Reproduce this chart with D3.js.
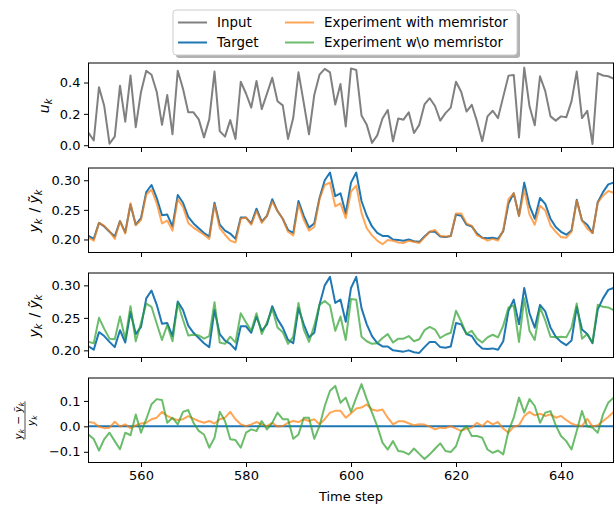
<!DOCTYPE html>
<html>
<head>
<meta charset="utf-8">
<script src="https://cdn.jsdelivr.net/npm/d3@7"></script>
<style>
  body { margin: 0; background: #fff; }
  text { font-family: "DejaVu Sans", sans-serif; }
</style>
</head>
<body>
<svg id="chart" width="615" height="506"></svg>
<script>
// time steps 550..650
var firstStep = 550;
var xTicks = [560, 580, 600, 620, 640];

// input u_k
var inputU = [0.08, 0.03, 0.37, 0.25, 0.01, 0.055, 0.38, 0.15, 0.445, 0.115,
  0.34, 0.475, 0.45, 0.34, 0.13, 0.32, 0.07, 0.475, 0.36, 0.21,
  0.21, 0.165, 0.05, 0.165, 0.47, 0.09, 0.055, 0.16, 0.04, 0.405,
  0.33, 0.24, 0.41, 0.23, 0.33, 0.43, 0.28, 0.254, 0.04, 0.175,
  0.465, 0.27, 0.07, 0.32, 0.45, 0.487, 0.465, 0.26, 0.39, 0.12,
  0.49, 0.48, 0.19, 0.13, 0.015, 0.063, 0.17, 0.225, 0.025, 0.17,
  0.163, 0.21, 0.078, 0.13, 0.26, 0.30, 0.25, 0.157, 0.205, 0.24,
  0.405, 0.34, 0.215, 0.258, 0.152, 0.025, 0.184, 0.22, 0.173, 0.31,
  0.444, 0.448, 0.05, 0.495, 0.248, 0.127, 0.44, 0.345, 0.184, 0.157,
  0.184, 0.178, 0.28, 0.47, 0.173, 0.22, 0.008, 0.46, 0.445, 0.44,
  0.425];

// target y_k
var target = [0.206, 0.201, 0.228, 0.222, 0.213, 0.205, 0.231, 0.212, 0.259, 0.225,
  0.236, 0.280, 0.292, 0.270, 0.241, 0.242, 0.222, 0.275, 0.262, 0.238,
  0.227, 0.219, 0.211, 0.205, 0.262, 0.225, 0.215, 0.210, 0.201, 0.237,
  0.237, 0.227, 0.252, 0.230, 0.240, 0.268, 0.248, 0.235, 0.216, 0.211,
  0.265, 0.240, 0.220, 0.227, 0.270, 0.300, 0.313, 0.273, 0.278, 0.244,
  0.296, 0.313, 0.265, 0.240, 0.222, 0.211, 0.206, 0.206, 0.200, 0.199,
  0.198, 0.200, 0.197, 0.196, 0.205, 0.213, 0.213, 0.205, 0.204, 0.206,
  0.242, 0.240, 0.225, 0.222, 0.210, 0.203, 0.202, 0.203, 0.201, 0.214,
  0.261, 0.278, 0.240, 0.296, 0.257, 0.235, 0.270, 0.260, 0.235, 0.221,
  0.213, 0.208, 0.215, 0.267, 0.232, 0.225, 0.211, 0.263, 0.280, 0.293,
  0.296];

// experiment with memristor
var withMem = [0.203, 0.198, 0.228, 0.223, 0.214, 0.201, 0.231, 0.210, 0.261, 0.224,
  0.233, 0.276, 0.284, 0.261, 0.227, 0.232, 0.215, 0.268, 0.255, 0.228,
  0.220, 0.214, 0.208, 0.201, 0.259, 0.219, 0.208, 0.198, 0.195, 0.235,
  0.237, 0.225, 0.248, 0.228, 0.240, 0.264, 0.248, 0.235, 0.213, 0.207,
  0.260, 0.233, 0.215, 0.221, 0.268, 0.292, 0.296, 0.256, 0.261, 0.236,
  0.281, 0.291, 0.245, 0.219, 0.207, 0.198, 0.192, 0.199, 0.198, 0.195,
  0.194, 0.198, 0.196, 0.194, 0.204, 0.213, 0.216, 0.206, 0.205, 0.206,
  0.244, 0.244, 0.227, 0.223, 0.207, 0.203, 0.198, 0.201, 0.198, 0.216,
  0.268, 0.278, 0.239, 0.284, 0.242, 0.225, 0.257, 0.249, 0.224, 0.213,
  0.204, 0.203, 0.213, 0.266, 0.232, 0.218, 0.211, 0.262, 0.274, 0.282,
  0.279];

// experiment without memristor
var withoutMem = [0.213, 0.211, 0.250, 0.233, 0.218, 0.217, 0.252, 0.217, 0.268, 0.214,
  0.242, 0.272, 0.267, 0.241, 0.216, 0.239, 0.214, 0.273, 0.247, 0.223,
  0.224, 0.223, 0.218, 0.222, 0.274, 0.212, 0.210, 0.221, 0.212, 0.257,
  0.243, 0.230, 0.257, 0.225, 0.243, 0.264, 0.235, 0.228, 0.210, 0.221,
  0.273, 0.232, 0.213, 0.238, 0.270, 0.276, 0.269, 0.230, 0.252, 0.216,
  0.279, 0.278, 0.221, 0.214, 0.210, 0.211, 0.219, 0.225, 0.212, 0.218,
  0.218, 0.222, 0.214, 0.217, 0.231, 0.236, 0.232, 0.219, 0.224, 0.227,
  0.261, 0.244, 0.225, 0.230, 0.218, 0.212, 0.220, 0.224, 0.220, 0.238,
  0.266, 0.269, 0.213, 0.280, 0.230, 0.216, 0.266, 0.246, 0.221, 0.220,
  0.221, 0.220, 0.235, 0.272, 0.218, 0.225, 0.212, 0.270, 0.267, 0.266,
  0.262];

// relative error (y - y~)/y
var errMem = [0.017, 0.014, -0.001, -0.007, -0.005, 0.018, -0.001, 0.008, -0.007, 0.004,
  0.011, 0.014, 0.028, 0.034, 0.057, 0.041, 0.03, 0.025, 0.028, 0.04,
  0.03, 0.021, 0.014, 0.021, 0.011, 0.028, 0.034, 0.057, 0.028, 0.008,
  0.001, 0.008, 0.017, 0.008, 0.001, 0.014, -0.001, 0.001, 0.014, 0.021,
  0.017, 0.028, 0.021, 0.028, 0.008, 0.028, 0.054, 0.061, 0.061, 0.034,
  0.051, 0.07, 0.074, 0.086, 0.066, 0.061, 0.066, 0.034, 0.008, 0.02,
  0.02, 0.012, 0.004, 0.008, 0.007, -0.001, -0.012, -0.005, -0.007, 0.001,
  -0.009, -0.018, -0.009, -0.005, 0.014, 0.001, 0.021, 0.008, 0.017, -0.009,
  -0.025, -0.001, 0.004, 0.041, 0.057, 0.043, 0.05, 0.041, 0.047, 0.034,
  0.041, 0.025, 0.011, 0.004, 0.001, 0.03, -0.001, 0.004, 0.021, 0.037,
  0.057];

var errNoMem = [-0.032, -0.05, -0.095, -0.05, -0.025, -0.058, -0.09, -0.025, -0.035, 0.047,
  -0.025, 0.028, 0.087, 0.107, 0.104, 0.014, 0.034, 0.008, 0.057, 0.064,
  0.014, -0.018, -0.032, -0.084, -0.045, 0.057, 0.021, -0.051, -0.054, -0.084,
  -0.025, -0.012, -0.018, 0.021, -0.012, 0.014, 0.054, 0.028, 0.028, -0.049,
  -0.032, 0.034, 0.034, -0.049, 0.001, 0.08, 0.14, 0.159, 0.093, 0.113,
  0.057, 0.113, 0.166, 0.107, 0.054, 0.001, -0.064, -0.091, -0.058, -0.097,
  -0.1, -0.11, -0.087, -0.108, -0.128, -0.11, -0.088, -0.067, -0.097, -0.101,
  -0.078, -0.018, 0.001, -0.038, -0.038, -0.045, -0.091, -0.104, -0.095, -0.11,
  -0.018, 0.034, 0.113, 0.054, 0.107, 0.08, 0.014, 0.054, 0.06, 0.004,
  -0.038, -0.058, -0.091, -0.018, 0.06, -0.001, -0.005, -0.025, 0.047, 0.093,
  0.113];

var zeroLine = [0, 0];

var legendNames = ["Input", "Target", "Experiment with memristor", "Experiment w\\o memristor"];

var C = {input: "#808080", target: "#1f77b4", mem: "#ff7f0e", nomem: "#2ca02c"};

var svg = d3.select("#chart");
var left = 88.5, right = 613.5, panelH = 84.5;

var x = d3.scaleLinear().domain([550, 650]).range([left, right]);

var panels = [
  {top: 63, domain: [-0.0145, 0.5245], ticks: [0, 0.2, 0.4], fmt: ".1f"},
  {top: 168, domain: [0.178, 0.3207], ticks: [0.2, 0.25, 0.3], fmt: ".2f"},
  {top: 273, domain: [0.189, 0.319], ticks: [0.2, 0.25, 0.3], fmt: ".2f"},
  {top: 378, domain: [-0.142, 0.19], ticks: [-0.1, 0, 0.1], fmt: ".1f"}
];

function drawPanel(p, idx, series) {
  var y = d3.scaleLinear().domain(p.domain).range([p.top + panelH, p.top]);
  var g = svg.append("g");

  g.append("clipPath").attr("id", "clip" + idx)
    .append("rect").attr("x", left).attr("y", p.top).attr("width", right - left).attr("height", panelH);

  var plot = g.append("g").attr("clip-path", "url(#clip" + idx + ")");
  series.forEach(function (s) {
    var line = d3.line()
      .x(function (d, i) { return x(s.steps ? s.steps[i] : firstStep + i); })
      .y(function (d) { return y(d); });
    plot.append("path")
      .datum(s.values)
      .attr("d", line)
      .attr("fill", "none")
      .attr("stroke", s.color)
      .attr("stroke-opacity", s.alpha || 1)
      .attr("stroke-width", 2)
      .attr("stroke-linejoin", "round");
  });

  var last = idx === panels.length - 1;
  var xAxis = d3.axisBottom(x).tickValues(xTicks).tickSize(4.5).tickSizeOuter(0).tickPadding(3.5)
    .tickFormat(last ? d3.format("d") : "");
  var gx = g.append("g").attr("transform", "translate(0," + (p.top + panelH) + ")").call(xAxis);

  var yAxis = d3.axisLeft(y).tickValues(p.ticks).tickSize(4.5).tickSizeOuter(0).tickPadding(3.5)
    .tickFormat(d3.format(p.fmt));
  var gy = g.append("g").attr("transform", "translate(" + left + ",0)").call(yAxis);

  [gx, gy].forEach(function (a) {
    a.select(".domain").remove();
    a.selectAll("text").attr("font-size", 13).attr("font-family", "DejaVu Sans").attr("fill", "#000");
    a.selectAll("line").attr("stroke", "#000").attr("stroke-width", 1);
  });

  g.append("rect")
    .attr("x", left).attr("y", p.top)
    .attr("width", right - left).attr("height", panelH)
    .attr("fill", "none").attr("stroke", "#000").attr("stroke-width", 1);
  return y;
}

drawPanel(panels[0], 0, [{values: inputU, color: C.input}]);
drawPanel(panels[1], 1, [{values: target, color: C.target}, {values: withMem, color: C.mem, alpha: 0.7}]);
drawPanel(panels[2], 2, [{values: target, color: C.target}, {values: withoutMem, color: C.nomem, alpha: 0.7}]);
drawPanel(panels[3], 3, [
  {values: zeroLine, steps: [550, 650], color: C.target},
  {values: errMem, color: C.mem, alpha: 0.7},
  {values: errNoMem, color: C.nomem, alpha: 0.7}
]);

// math-ish labels built from italic letters and subscripts
function mathText(t, parts, size) {
  parts.forEach(function (pt) {
    var sp = t.append("tspan").text(pt[0]);
    if (pt[1] === "i") sp.attr("font-style", "italic");
    if (pt[1] === "sub") {
      sp.attr("font-style", "italic").attr("font-size", size * 0.7).attr("dy", size * 0.22);
      t.append("tspan").attr("dy", -size * 0.22).text("\u200a");
    }
  });
}

function yLabel(cx, cy, parts, size) {
  var t = svg.append("text")
    .attr("transform", "translate(" + cx + "," + cy + ") rotate(-90)")
    .attr("text-anchor", "middle").attr("font-size", size);
  mathText(t, parts, size);
}

yLabel(49, 63 + panelH / 2, [["u", "i"], ["k", "sub"]], 14);
var yy = [["y", "i"], ["k", "sub"], [" / ", ""], ["\u1ef9", "i"], ["k", "sub"]];
yLabel(39, 168 + panelH / 2, yy, 14);
yLabel(39, 273 + panelH / 2, yy, 14);

// fraction label for the error panel
var fs = 10.5;
var fr = svg.append("g").attr("transform", "translate(25," + (378 + panelH / 2) + ") rotate(-90)");
var num = fr.append("text").attr("text-anchor", "middle").attr("y", -3.5).attr("font-size", fs);
mathText(num, [["y", "i"], ["k", "sub"], [" \u2212 ", ""], ["\u1ef9", "i"], ["k", "sub"]], fs);
fr.append("line").attr("x1", -19).attr("x2", 19).attr("y1", 0).attr("y2", 0)
  .attr("stroke", "#000").attr("stroke-width", 0.7);
var den = fr.append("text").attr("text-anchor", "middle").attr("y", 9.5).attr("font-size", fs);
mathText(den, [["y", "i"], ["k", "sub"]], fs);

svg.append("text").attr("x", (left + right) / 2).attr("y", 501)
  .attr("text-anchor", "middle").attr("font-size", 13).text("Time step");

// legend
var lg = svg.append("g");
var lx = 173, ly = 10, lw = 344, lh = 45;
lg.append("rect").attr("x", lx + 3).attr("y", ly + 3).attr("width", lw).attr("height", lh)
  .attr("rx", 3).attr("fill", "#000").attr("fill-opacity", 0.3);
lg.append("rect").attr("x", lx).attr("y", ly).attr("width", lw).attr("height", lh)
  .attr("rx", 3).attr("fill", "#fff").attr("stroke", "#cccccc").attr("stroke-width", 1);

var legendItems = [
  {name: legendNames[0], color: C.input, alpha: 1, col: 0, row: 0},
  {name: legendNames[1], color: C.target, alpha: 1, col: 0, row: 1},
  {name: legendNames[2], color: C.mem, alpha: 0.7, col: 1, row: 0},
  {name: legendNames[3], color: C.nomem, alpha: 0.7, col: 1, row: 1}
];
var colX = [178, 285], rowY = [22.5, 42.5];
legendItems.forEach(function (d) {
  var x0 = colX[d.col], y0 = rowY[d.row];
  lg.append("line").attr("x1", x0).attr("x2", x0 + 29).attr("y1", y0).attr("y2", y0)
    .attr("stroke", d.color).attr("stroke-opacity", d.alpha).attr("stroke-width", 2);
  lg.append("text").attr("x", x0 + 39).attr("y", y0).attr("dy", "0.36em")
    .attr("font-size", 13.4).text(d.name);
});
</script>
</body>
</html>
